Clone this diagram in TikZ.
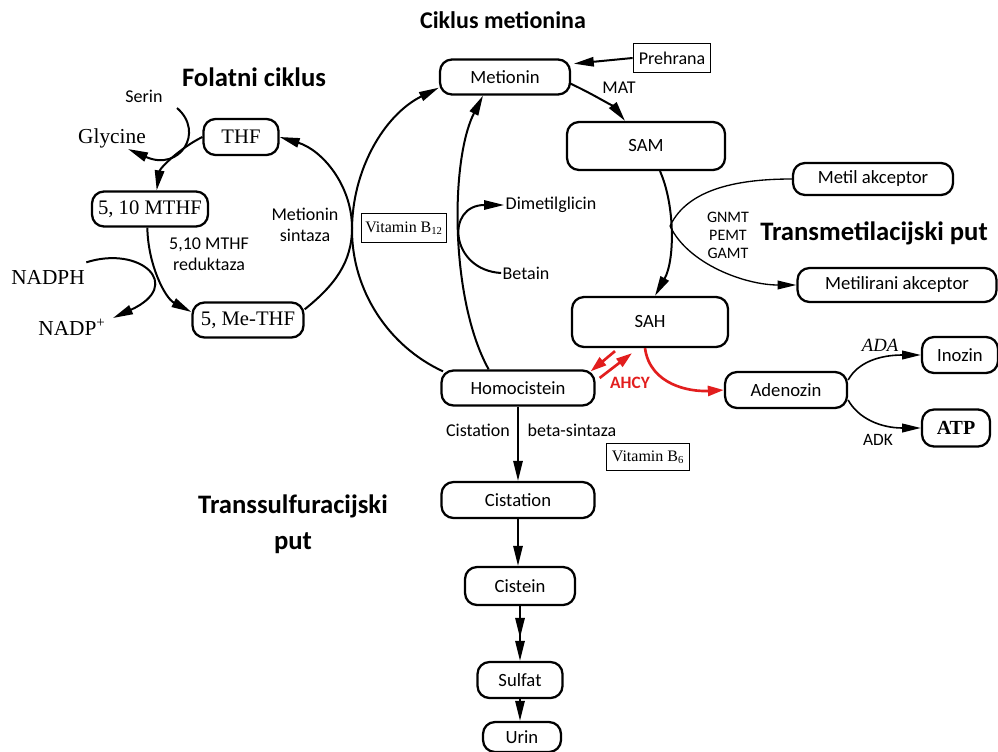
\documentclass[tikz,border=0pt]{standalone}
\usepackage{fontspec}
\setmainfont{Carlito}
\newfontfamily\lserif{Liberation Serif}
\usetikzlibrary{arrows.meta,decorations.markings}
\definecolor{ahcyred}{RGB}{226,30,30}
\begin{document}
\begin{tikzpicture}[x=0.75pt,y=-0.75pt,
  box/.style={draw, line width=1.7pt, rounded corners=9pt, inner sep=0pt, font=\fontsize{14}{16}\selectfont},
  sbox/.style={box, font=\lserif\fontsize{15.5}{18}\selectfont},
  sq/.style={draw, line width=1.4pt, inner sep=0pt},
  lbl/.style={inner sep=1pt, font=\fontsize{13.5}{16}\selectfont},
  slbl/.style={inner sep=1pt, font=\lserif\fontsize{16}{18}\selectfont},
  ttl/.style={inner sep=0pt, font=\fontsize{20}{27}\selectfont\bfseries},
  arr/.style={line width=1.5pt, -{Triangle[length=15pt,width=7pt]}},
  ln/.style={line width=1.5pt},
  thinln/.style={line width=1pt},
  thinarr/.style={line width=1pt, -{Triangle[length=14pt,width=6.5pt]}},
  redarr/.style={line width=2pt, draw=ahcyred, -{Triangle[length=12pt,width=7.5pt]}, color=ahcyred},
  midarr/.style={postaction={decorate}, decoration={markings, mark=at position 0.58 with {\arrow{Triangle[length=15pt,width=7pt]}}}}
]
\useasboundingbox (0,0) rectangle (998,752);

% titles
\node[ttl, font=\fontsize{18}{22}\selectfont\bfseries] (t1) at (503,20) {Ciklus metionina};
\node[ttl] (t2) at (254,77) {Folatni ciklus};
\node[ttl] (t3) at (874,233) {Transmetilacijski put};
\node[ttl, align=center] (t4) at (293,524) {Transsulfuracijski\\put};

% main nodes
\node[box, minimum width=97.5pt, minimum height=26.25pt] (met) at (505,77) {Metionin};
\node[sq, minimum width=57.75pt, minimum height=21.75pt, font=\fontsize{13.5}{16}\selectfont] (preh) at (672,58) {Prehrana};
\node[box, minimum width=118.5pt, minimum height=36pt] (sam) at (646,146) {SAM};
\node[box, minimum width=117pt, minimum height=37.5pt] (sah) at (650,322) {SAH};
\node[box, minimum width=114.75pt, minimum height=26.25pt] (homo) at (518,388) {Homocistein};
\node[box, minimum width=114.75pt, minimum height=27pt] (cist) at (518,500) {Cistation};
\node[box, minimum width=82.5pt, minimum height=28.5pt] (cistein) at (520,586) {Cistein};
\node[box, minimum width=63.75pt, minimum height=27pt] (sulf) at (520,680) {Sulfat};
\node[box, minimum width=58.5pt, minimum height=22.5pt] (urin) at (522,737) {Urin};
\node[box, minimum width=91.5pt, minimum height=27pt] (aden) at (786,390) {Adenozin};
\node[box, minimum width=57pt, minimum height=27pt] (inoz) at (960,355) {Inozin};
\node[sbox, minimum width=51pt, minimum height=27.75pt, font=\lserif\bfseries\fontsize{15}{18}\selectfont] (atp) at (956,428) {ATP};
\node[box, minimum width=120pt, minimum height=24pt] (metil) at (873,179) {Metil akceptor};
\node[box, minimum width=149.25pt, minimum height=25.5pt] (metir) at (897,285) {Metilirani akceptor};
\node[sbox, minimum width=56.25pt, minimum height=27pt] (thf) at (241,137) {THF};
\node[sbox, minimum width=87pt, minimum height=26.25pt] (mthf) at (150,209) {5, 10 MTHF};
\node[sbox, minimum width=83.25pt, minimum height=26.25pt] (methf) at (248,320) {5, Me-THF};
\node[sq, minimum width=63.75pt, minimum height=21.75pt, font=\lserif\fontsize{12}{13}\selectfont] (vb12) at (404,228) {Vitamin B\textsubscript{12}};
\node[sq, minimum width=62.25pt, minimum height=20.25pt, font=\lserif\fontsize{12}{13}\selectfont] (vb6) at (648,457) {Vitamin B\textsubscript{6}};

% labels
\node[lbl] (serin) at (144,96) {Serin};
\node[slbl] (glyc) at (112,138) {Glycine};
\node[slbl] (nadph) at (48,277) {NADPH};
\node[slbl] (nadp) at (72,327) {NADP\textsuperscript{+}};
\node[lbl, align=center] (msint) at (305,225) {Metionin\\sintaza};
\node[lbl, align=center] (mred) at (209,254) {5,10 MTHF\\reduktaza};
\node[lbl] (mat) at (619,88) {MAT};
\node[lbl] (dim) at (551,205) {Dimetilglicin};
\node[lbl] (bet) at (526,273) {Betain};
\node[lbl, align=center, font=\fontsize{12}{13.5}\selectfont] (enz) at (728,235) {GNMT\\PEMT\\GAMT};
\node[lbl, font=\fontsize{13}{16}\selectfont\bfseries, text=ahcyred] (ahcy) at (630,383) {AHCY};
\node[lbl, font=\lserif\itshape\fontsize{14}{16}\selectfont] (ada) at (880,345) {ADA};
\node[lbl, font=\fontsize{13}{16}\selectfont] (adk) at (878,440) {ADK};
\node[lbl] (cbs1) at (478,430) {Cistation};
\node[lbl] (cbs2) at (572,430) {beta-sintaza};

% folate cycle
\coordinate (fr) at (352,228);
\draw[arr] (thf.west) .. controls (180,148) and (160,168) .. ([xshift=5pt]mthf.north);
\draw[arr] ([xshift=-2pt]mthf.south) .. controls (148,265) and (165,298) .. ([yshift=6pt]methf.west);
\draw[arr] ([yshift=8pt]methf.east) .. controls (335,285) and (352,262) .. (fr) .. controls (352,185) and (322,150) .. (thf.east);
\coordinate (s1) at (177,108);
\coordinate (g1) at (128,149);
\draw[arr] (s1) .. controls (205,132) and (180,172) .. (g1);
\coordinate (n1) at (113,318);
\draw[arr] ([yshift=11pt]nadph.east) .. controls (140,245) and (185,285) .. (n1);

% methionine cycle
\coordinate (ml) at (352,230);
\draw[arr] ([shift={(2pt,-1.5pt)}]homo.north west) .. controls (388,346) and (352,290) .. (ml) .. controls (352,170) and (384,115) .. ([yshift=-8pt]met.west);
\draw[arr] ([xshift=-22pt]homo.north) .. controls (450,300) and (450,160) .. ([xshift=-16.5pt]met.south);
\draw[arr] (bet.west) .. controls (450,270) and (445,205) .. (dim.west);
\draw[arr] ([shift={(-1.5pt,-4.5pt)}]met.east) .. controls (595,95) and (615,108) .. ([xshift=-15.75pt]sam.north);
\draw[arr] (preh.west) -- ([shift={(2pt,-4pt)}]met.north east);
\draw[arr] ([xshift=10.5pt]sam.south) .. controls (675,205) and (675,260) .. ([xshift=3.75pt]sah.north);

% transmethylation
\coordinate (fork) at (670,226);
\draw[thinln] (fork) .. controls (688,188) and (740,179) .. (metil.west);
\draw[thinarr] (fork) .. controls (688,264) and (745,285) .. (metir.west);

% AHCY
\draw[redarr] ([shift={(-26.25pt,-2.25pt)}]sah.south) -- ([shift={(-3.75pt,-1.5pt)}]homo.north east);
\draw[redarr] ([shift={(3pt,7.5pt)}]homo.east) -- ([shift={(-13.5pt,-3.75pt)}]sah.south);
\draw[redarr] ([xshift=-3.75pt]sah.south) .. controls (650,385) and (690,392) .. (aden.west);

% adenosine
\draw[thinarr, line width=1.2pt] ([yshift=7.5pt]aden.east) .. controls (858,362) and (880,355) .. (inoz.west);
\draw[thinarr, line width=1.2pt] ([yshift=-7.5pt]aden.east) .. controls (858,418) and (880,428) .. (atp.west);

% transsulfuration
\draw[arr] (homo.south) -- (homo.south |- cist.north);
\draw[arr] (cist.south) -- (cist.south |- cistein.north);
\draw[arr, midarr] (cistein.south) -- (cistein.south |- sulf.north);
\draw[arr] (sulf.south) -- (sulf.south |- urin.north);
\end{tikzpicture}
\end{document}
